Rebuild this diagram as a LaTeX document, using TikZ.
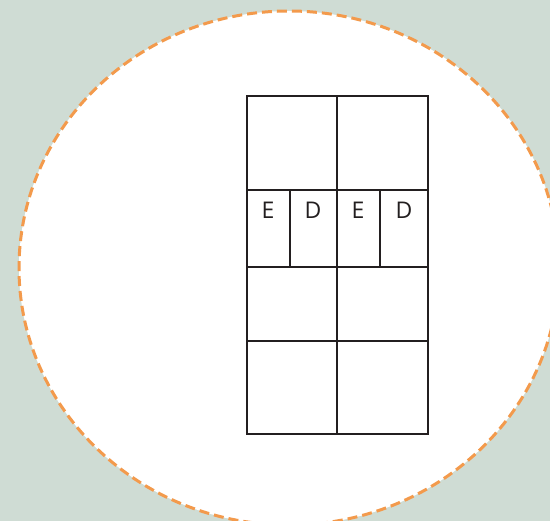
\documentclass[tikz,border=0pt]{standalone}
\usepackage{fontspec}
\setmainfont{Open Sans}
\definecolor{bgsage}{HTML}{CFDCD4}
\definecolor{rimorange}{HTML}{F39A4C}
\definecolor{gridink}{HTML}{231F20}
\tikzset{
  rimline/.style={draw=rimorange,line width=3pt,dash pattern=on 10pt off 5pt,fill=white},
  cellline/.style={draw=gridink,line width=2pt},
  celltag/.style={font=\fontsize{23}{27}\selectfont,text=gridink,inner sep=0pt}
}

\begin{document}
\begin{tikzpicture}[x=1pt,y=-1pt]
  \fill[bgsage] (0,0) rectangle (550,521);
  \useasboundingbox (0,0) rectangle (550,521);
  \begin{scope}
    \clip (0,0) rectangle (550,521);
    \draw[rimline] (289,268) ellipse [x radius=270,y radius=257];
  \end{scope}

  % grid of cells
  \draw[cellline] (247,96) rectangle (428,434);
  \draw[cellline] (247,190) -- (428,190) (247,267) -- (428,267) (247,341) -- (428,341);
  \draw[cellline] (337,96) -- (337,434) (290,190) -- (290,267) (380,190) -- (380,267);

  \node[celltag] (e1) at (268,210) {E};
  \node[celltag] (d1) at (313,210) {D};
  \node[celltag] (e2) at (358,210) {E};
  \node[celltag] (d2) at (404,210) {D};
\end{tikzpicture}
\end{document}
